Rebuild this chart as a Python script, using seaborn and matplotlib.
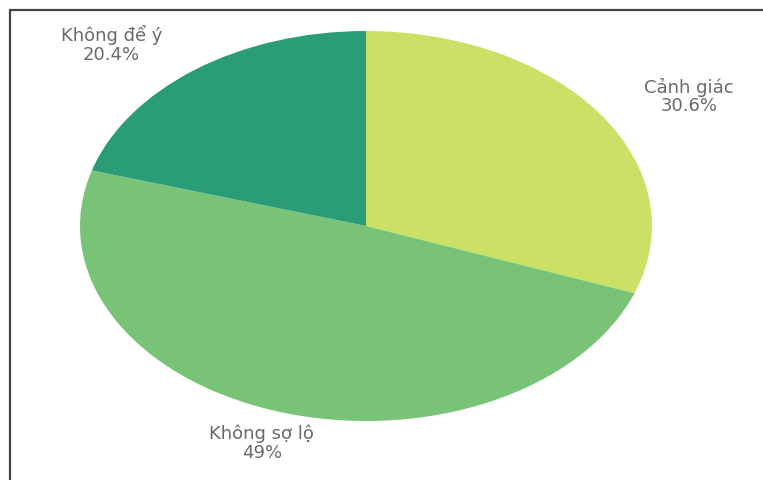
import matplotlib
matplotlib.use("Agg")
import matplotlib.pyplot as plt
from matplotlib.lines import Line2D
import seaborn as sns

sns.set_theme(style="white")
plt.rcParams["font.family"] = ["DejaVu Sans"]

categories = ["Cảnh giác", "Không sợ lộ", "Không để ý"]
values = [30.6, 49.0, 20.4]
value_labels = ["30.6%", "49%", "20.4%"]
colors = ["#cbe166", "#78c376", "#2a9d78"]

W, H = 763, 480
fig = plt.figure(figsize=(W / 100, H / 100), dpi=100)
fig.patch.set_facecolor("white")

# elliptical pie: axes box sized to the ellipse, aspect left free
cx, cy, rx, ry = 366, 226, 286, 195
ax = fig.add_axes([(cx - rx) / W, (H - cy - ry) / H, 2 * rx / W, 2 * ry / H])
ax.pie(values, colors=colors, startangle=90, counterclock=False,
       radius=1.0, wedgeprops=dict(linewidth=0))
ax.set_aspect("auto")
ax.set_xlim(-1, 1)
ax.set_ylim(-1, 1)
ax.axis("off")

# label positions in the pie's normalised coordinates
label_pos = {
    "Cảnh giác": (1.13, 0.665),
    "Không sợ lộ": (-0.364, -1.115),
    "Không để ý": (-0.89, 0.93),
}
for cat, lab in zip(categories, value_labels):
    x, y = label_pos[cat]
    ax.text(x, y, f"{cat}\n{lab}", ha="center", va="center",
            fontsize=13, color="#6a6a6a", linespacing=1.05, clip_on=False)

# frame lines along the top and left
fig.add_artist(Line2D([9.5 / W, 1.0], [1 - 9.5 / H, 1 - 9.5 / H],
                      transform=fig.transFigure, color="#454545", linewidth=1.6))
fig.add_artist(Line2D([9.5 / W, 9.5 / W], [0.0, 1 - 9.5 / H],
                      transform=fig.transFigure, color="#454545", linewidth=1.6))

fig.savefig("out.png", dpi=100, facecolor="white")
